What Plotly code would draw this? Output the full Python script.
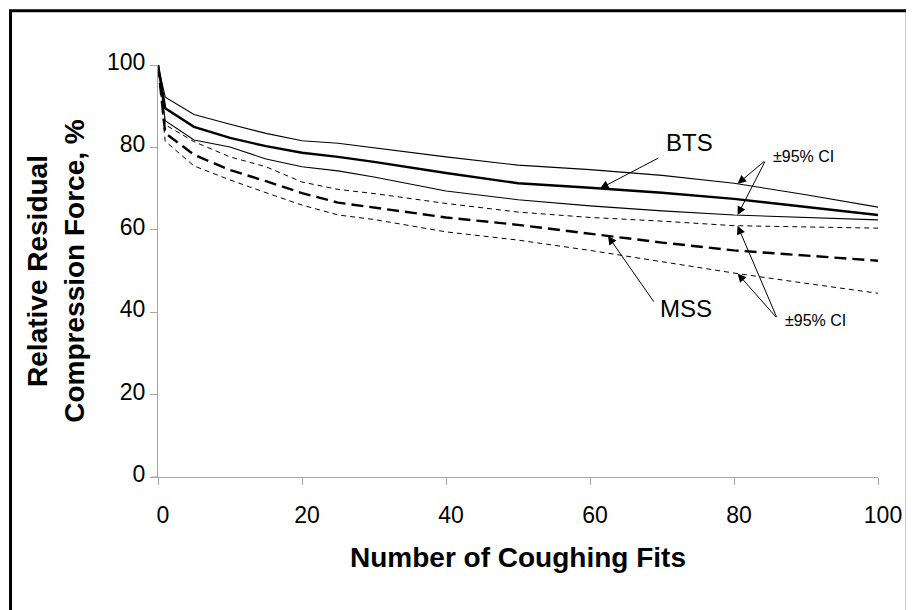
import numpy as np
import plotly.graph_objects as go

# ---- data ----
coughing_fits = [0, 1, 5, 10, 15, 20, 25, 30, 40, 50, 60, 70, 80, 90, 100]
bts_mean  = [100, 89.5, 85.0, 82.3, 80.3, 78.7, 77.7, 76.5, 73.8, 71.3, 70.2, 69.0, 67.5, 65.6, 63.6]
bts_upper = [100, 92.2, 88.0, 85.6, 83.4, 81.6, 81.0, 79.9, 77.7, 75.7, 74.6, 73.2, 71.3, 68.5, 65.5]
bts_lower = [100, 86.5, 81.8, 80.1, 77.2, 75.3, 74.3, 72.8, 69.4, 67.3, 65.8, 64.6, 63.6, 63.0, 62.4]
mss_upper = [100, 85.5, 81.4, 77.7, 75.3, 71.6, 69.8, 68.8, 66.4, 64.3, 63.0, 62.1, 61.0, 60.7, 60.4]
mss_mean  = [100, 83.5, 78.2, 74.5, 71.8, 68.9, 66.6, 65.4, 63.0, 61.2, 59.0, 56.9, 55.0, 53.8, 52.5]
mss_lower = [100, 81.5, 75.5, 72.1, 69.0, 66.0, 63.6, 62.5, 59.5, 57.5, 55.0, 52.3, 49.5, 47.0, 44.6]

x_ticks = [0, 20, 40, 60, 80, 100]
y_ticks = [0, 20, 40, 60, 80, 100]

FONT = "Arial, 'Liberation Sans', sans-serif"

fig = go.Figure()

def add(y, width, dash):
    fig.add_trace(go.Scatter(x=coughing_fits, y=y, mode="lines",
                             line=dict(color="black", width=width, dash=dash),
                             showlegend=False, hoverinfo="skip"))

add(bts_upper, 1.1, "solid")
add(bts_lower, 1.1, "solid")
add(bts_mean, 2.4, "solid")
add(mss_upper, 1.0, "5px,4px")
add(mss_lower, 1.0, "5px,4px")
add(mss_mean, 2.4, "12px,6px")

def at(series, xv):
    return float(np.interp(xv, coughing_fits, series))

annotations = []

def arrow(hx, hy, tx, ty):
    annotations.append(dict(x=hx, y=hy, ax=tx, ay=ty, xref="x", yref="y",
                            axref="x", ayref="y", text="", showarrow=True,
                            arrowhead=2, arrowsize=1.7, arrowwidth=1,
                            arrowcolor="black", standoff=0, startstandoff=0))

def label(xp, yp, txt, size):
    annotations.append(dict(x=xp, y=yp, xref="x", yref="y", text=txt,
                            showarrow=False, font=dict(family=FONT, size=size, color="black")))

# BTS
label(73.8, 81.1, "BTS", 24)
arrow(61.4, at(bts_mean, 61.4), 69.7, 77.6)
# MSS
label(73.3, 41.0, "MSS", 24)
arrow(62.5, at(mss_mean, 62.5), 69.0, 42.2)
# CI labels
label(89.6, 77.7, "±95% CI", 16)
arrow(80.5, at(bts_upper, 80.5), 84.4, 76.9)
arrow(80.5, at(bts_lower, 80.5), 84.4, 76.9)
label(91.3, 38.1, "±95% CI", 16)
arrow(80.5, at(mss_upper, 80.5), 86.0, 38.5)
arrow(80.5, at(mss_lower, 80.5), 86.0, 38.5)

PW, PH = 725.0, 412.0
fig.update_layout(
    width=906, height=602,
    margin=dict(l=150, r=31, t=57, b=133),
    paper_bgcolor="white", plot_bgcolor="white",
    font=dict(family=FONT, color="black"),
    annotations=annotations,
    shapes=[
        dict(type="rect", xref="paper", yref="paper",
             x0=-148.5 / PW, x1=754.5 / PW, y0=-0.34, y1=466.3 / PH,
             line=dict(color="black", width=3), fillcolor="rgba(0,0,0,0)", layer="above"),
        dict(type="line", xref="paper", yref="paper",
             x0=-7 / PW, x1=0, y0=0, y1=0,
             line=dict(color="#a6a6a6", width=1)),
    ],
    xaxis=dict(range=[0, 100], tickvals=x_ticks, ticktext=[str(v) for v in x_ticks],
               showgrid=False, zeroline=False, showline=True, linecolor="#a6a6a6", linewidth=1,
               ticks="outside", ticklen=7, tickcolor="#a6a6a6",
               ticklabelstandoff=10, ticklabelshift=5,
               tickfont=dict(size=23, family=FONT, color="black"),
               title=dict(text="<b>Number of Coughing Fits</b>", standoff=20,
                          font=dict(size=28, family=FONT, color="black"))),
    yaxis=dict(range=[0, 100], tickvals=y_ticks, ticktext=[str(v) for v in y_ticks],
               showgrid=False, zeroline=False, showline=True, linecolor="#a6a6a6", linewidth=1,
               ticks="outside", ticklen=7, tickcolor="#a6a6a6",
               ticklabelshift=-3,
               tickfont=dict(size=23, family=FONT, color="black"),
               title=dict(text="<b>Relative Residual<br>Compression Force, %</b>", standoff=14,
                          font=dict(size=28, family=FONT, color="black"))),
)

fig.write_html("out.html")
